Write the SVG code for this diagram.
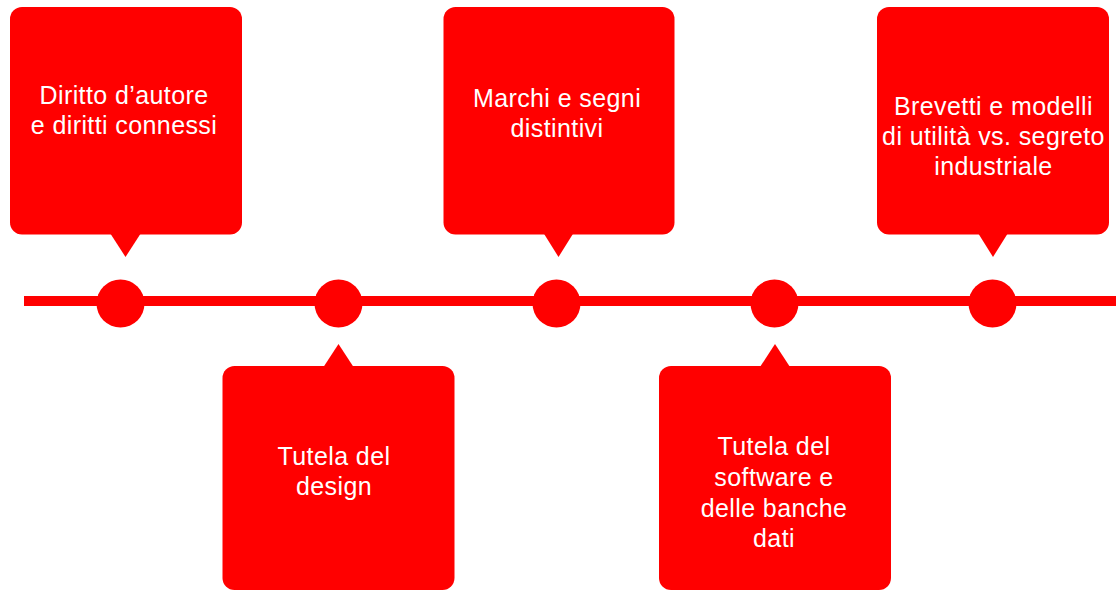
<svg xmlns="http://www.w3.org/2000/svg" width="1116" height="590" viewBox="0 0 1116 590">
<style>
.box{fill:#ff0000}
.dot{fill:#ff0000}
.line{stroke:#ff0000;stroke-width:10;fill:none}
.t{fill:#ffffff;font-family:"Liberation Sans",Arial,sans-serif;font-size:25px;letter-spacing:0.4px;text-anchor:middle}
</style>
<rect width="1116" height="590" fill="#ffffff"/>
<g id="connectors">
<line class="line" x1="24" y1="301" x2="1116" y2="301"/>
</g>
<g id="dot1"><circle class="dot" cx="120.5" cy="303.5" r="24"/></g>
<g id="dot2"><circle class="dot" cx="338.5" cy="303.5" r="24"/></g>
<g id="dot3"><circle class="dot" cx="556.5" cy="303.5" r="24"/></g>
<g id="dot4"><circle class="dot" cx="774.5" cy="303.5" r="24"/></g>
<g id="dot5"><circle class="dot" cx="992.5" cy="303.5" r="24"/></g>
<g id="node1">
<rect class="box" x="10" y="7" width="232" height="227.5" rx="12"/>
<polygon class="box" points="110,233 141,233 125.5,257"/>
<text class="t"><tspan x="124" y="104">Diritto d’autore</tspan><tspan x="124" y="134">e diritti connessi</tspan></text>
</g>
<g id="node2">
<rect class="box" x="222.5" y="366" width="232" height="224" rx="12"/>
<polygon class="box" points="323.5,367 353.5,367 338.5,344"/>
<text class="t"><tspan x="334" y="465">Tutela del</tspan><tspan x="334" y="495">design</tspan></text>
</g>
<g id="node3">
<rect class="box" x="443.5" y="7" width="231" height="227.5" rx="12"/>
<polygon class="box" points="543.5,233 573.5,233 558.5,257"/>
<text class="t"><tspan x="557" y="107">Marchi e segni</tspan><tspan x="557" y="137">distintivi</tspan></text>
</g>
<g id="node4">
<rect class="box" x="659" y="366" width="232" height="224" rx="12"/>
<polygon class="box" points="760,367 790,367 775,344"/>
<text class="t"><tspan x="774" y="455">Tutela del</tspan><tspan x="774" y="485.5">software e</tspan><tspan x="774" y="516.5">delle banche</tspan><tspan x="774" y="547">dati</tspan></text>
</g>
<g id="node5">
<rect class="box" x="877" y="7" width="232" height="227.5" rx="12"/>
<polygon class="box" points="978,233 1008,233 993,257"/>
<text class="t"><tspan x="993.5" y="115">Brevetti e modelli</tspan><tspan x="993.5" y="145">di utilità vs. segreto</tspan><tspan x="993.5" y="175">industriale</tspan></text>
</g>
</svg>
